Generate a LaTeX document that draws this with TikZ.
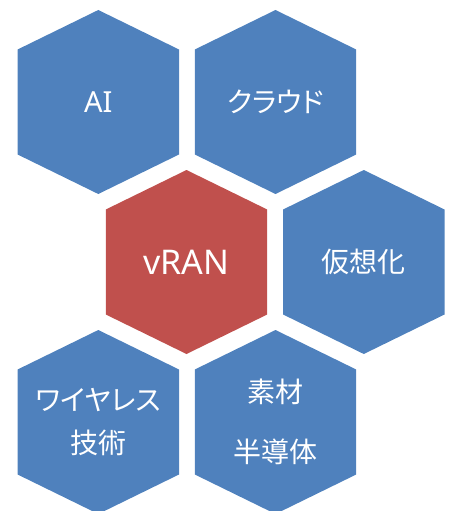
\documentclass[tikz,border=0pt]{standalone}
\usepackage{fontspec}
\setmainfont{Noto Sans CJK JP}[RawFeature=+palt]
\newfontfamily\latinfont{Noto Sans}
\definecolor{hexblue}{HTML}{4F81BD}
\definecolor{hexred}{HTML}{C0504D}
\tikzset{
  hexfill/.style={fill=#1, draw=none},
  hexlabel/.style={text=white, align=center, inner sep=0pt, font=\fontsize{28}{43}\selectfont},
}
\newcommand\hexcell[3]{%
  \fill[hexfill=#3] ($(#1,#2)+(0,-92)$) -- ++(80.7,39.5) -- ++(0,105) -- ++(-80.7,39.5)
    -- ++(-80.7,-39.5) -- ++(0,-105) -- cycle;}
\usetikzlibrary{calc}
\begin{document}
\begin{tikzpicture}[x=1pt,y=-1pt]
\useasboundingbox (0,0) rectangle (452,511);
\hexcell{98.3}{102}{hexblue}
\hexcell{275.5}{102}{hexblue}
\hexcell{186.5}{262}{hexred}
\hexcell{363.8}{262}{hexblue}
\hexcell{98.3}{422}{hexblue}
\hexcell{275.5}{422}{hexblue}
\node[hexlabel, font=\latinfont\fontsize{29}{36}\selectfont] (ai) at (98.3,102) {AI};
\node[hexlabel] (cloud) at (275.5,102) {クラウド};
\node[hexlabel, font=\latinfont\fontsize{34}{40}\selectfont] (vran) at (186.5,262) {vRAN};
\node[hexlabel] (virt) at (363.8,262) {仮想化};
\node[hexlabel, font=\fontsize{28}{43}\selectfont] (wireless) at (98.3,422) {ワイヤレス\\技術};
\node[hexlabel, font=\fontsize{28}{60}\selectfont] (material) at (275.5,422) {素材\\半導体};
\end{tikzpicture}
\end{document}
